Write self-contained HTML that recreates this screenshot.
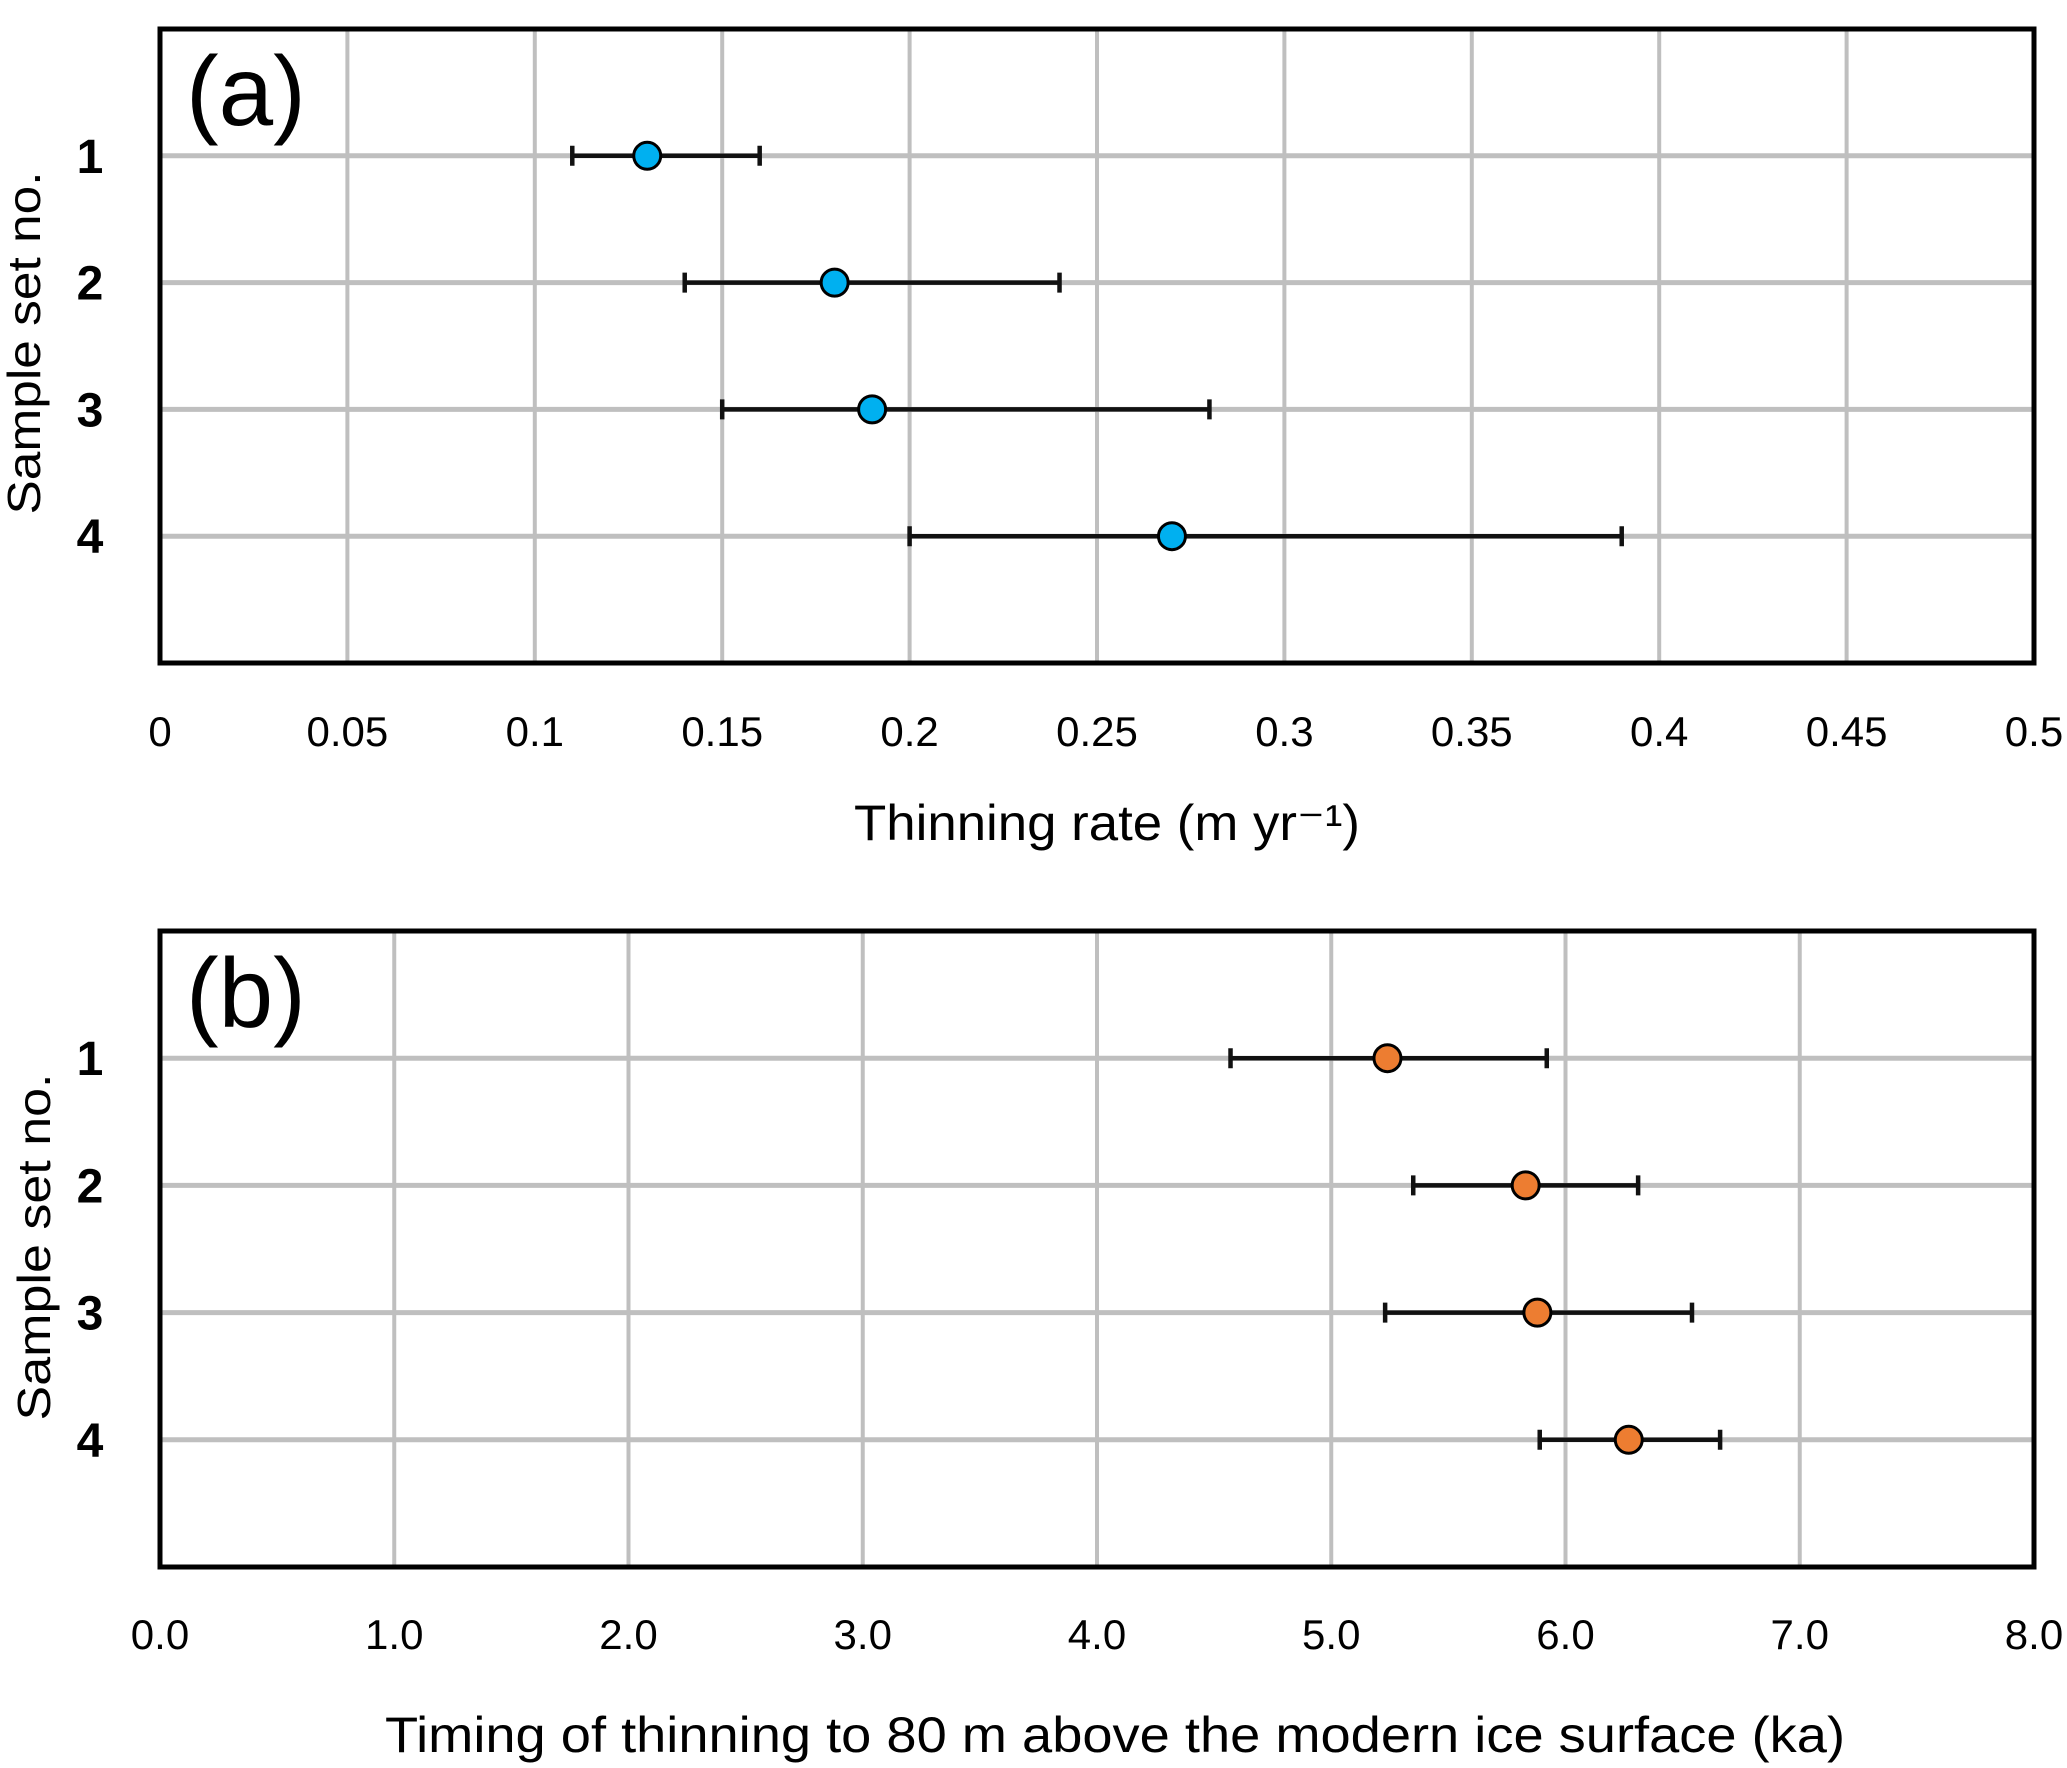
<!DOCTYPE html>
<html><head><meta charset="utf-8"><style>
html,body{margin:0;padding:0;background:#fff;}
svg{display:block;font-family:"Liberation Sans",sans-serif;}
</style></head><body>
<svg id="chart" width="2067" height="1768" viewBox="0 0 2067 1768" xmlns="http://www.w3.org/2000/svg"></svg>
<script>
const rowsA = [1, 2, 3, 4];
const valuesA = [0.13, 0.18, 0.19, 0.27];
const lowA = [0.11, 0.14, 0.15, 0.20];
const highA = [0.16, 0.24, 0.28, 0.39];
const ticksA = ["0", "0.05", "0.1", "0.15", "0.2", "0.25", "0.3", "0.35", "0.4", "0.45", "0.5"];

const rowsB = [1, 2, 3, 4];
const valuesB = [5.24, 5.83, 5.88, 6.27];
const lowB = [4.57, 5.35, 5.23, 5.89];
const highB = [5.92, 6.31, 6.54, 6.66];
const ticksB = ["0.0", "1.0", "2.0", "3.0", "4.0", "5.0", "6.0", "7.0", "8.0"];

const NS = "http://www.w3.org/2000/svg";
const svg = document.getElementById("chart");
function mk(tag, attrs, parent) {
  const e = document.createElementNS(NS, tag);
  for (const k in attrs) e.setAttribute(k, attrs[k]);
  (parent || svg).appendChild(e);
  return e;
}

function panel(cfg) {
  const g = mk("g", {});
  
  
  const L = 160, R = 2034, T = cfg.top, B = cfg.bottom;
  const xs = v => L + (v - cfg.min) / (cfg.max - cfg.min) * (R - L);
  const ys = r => T + r / 5 * (B - T);
  cfg.ticks.forEach((t, i) => {
    const v = cfg.min + i * (cfg.max - cfg.min) / (cfg.ticks.length - 1);
    const x = xs(v);
    if (i > 0 && i < cfg.ticks.length - 1) {
      const gl = mk("line", {x1: x, x2: x, y1: T, y2: B, stroke: "#bfbfbf", "stroke-width": 4}, g);
      
      
    }
    const tl = mk("text", {x: x, y: cfg.tickY, "font-size": 42, "text-anchor": "middle", fill: "#000"}, g);
    tl.textContent = t;
    
    
  });
  cfg.rows.forEach(r => {
    const y = ys(r);
    const hl = mk("line", {x1: L, x2: R, y1: y, y2: y, stroke: "#bfbfbf", "stroke-width": 5}, g);
    
    
    const rl = mk("text", {x: 90, y: y + 17, "font-size": 48, "font-weight": "bold", "text-anchor": "middle"}, g);
    rl.textContent = String(r);
    
    
  });
  const fr = mk("rect", {x: L, y: T, width: R - L, height: B - T, fill: "none", stroke: "#000", "stroke-width": 5}, g);
  
  
  cfg.rows.forEach((r, i) => {
    const y = ys(r);
    const x1 = xs(cfg.low[i]), x2 = xs(cfg.high[i]);
    const eb = mk("path", {d: `M${x1},${y}H${x2}M${x1},${y - 10}V${y + 10}M${x2},${y - 10}V${y + 10}`, stroke: "#111", "stroke-width": 4.5, fill: "none"}, g);
    
    
    const c = mk("circle", {cx: xs(cfg.values[i]), cy: y, r: 13.5, fill: cfg.color, stroke: "#000", "stroke-width": 3}, g);
    
    
  });
  const pl = mk("text", {x: 186, y: T + 96, "font-size": 98, fill: "#000"}, g);
  pl.textContent = cfg.letter;
  
  
  const yt = mk("text", {x: 0, y: 0, "font-size": 46, "text-anchor": "middle", textLength: cfg.yTitleLen, lengthAdjust: "spacingAndGlyphs", transform: `translate(${cfg.yTitleX},${cfg.yTitleY}) rotate(-90)`}, g);
  yt.textContent = "Sample set no.";
  
  
  const xt = mk("text", {x: cfg.xTitleX, y: cfg.xTitleY, "font-size": 50, "text-anchor": "middle", textLength: cfg.xTitleLen, lengthAdjust: "spacingAndGlyphs"}, g);
  xt.textContent = cfg.xTitle;
  
  
}

panel({name: "panel-a-thinning-rate", top: 29, bottom: 663, min: 0, max: 0.5, ticks: ticksA, rows: rowsA,
  values: valuesA, low: lowA, high: highA, color: "#00b0f0", letter: "(a)", tickY: 746,
  yTitleX: 40, yTitleY: 343, yTitleLen: 343, xTitleX: 1107, xTitleY: 840, xTitleLen: 506, xTitle: "Thinning rate (m yr\u207B\u00B9)"});
panel({name: "panel-b-timing", top: 931, bottom: 1567, min: 0, max: 8, ticks: ticksB, rows: rowsB,
  values: valuesB, low: lowB, high: highB, color: "#ed7d31", letter: "(b)", tickY: 1649,
  yTitleX: 50, yTitleY: 1247, yTitleLen: 347, xTitleX: 1115, xTitleY: 1752, xTitleLen: 1460, xTitle: "Timing of thinning to 80 m above the modern ice surface (ka)"});
</script>
</body></html>
